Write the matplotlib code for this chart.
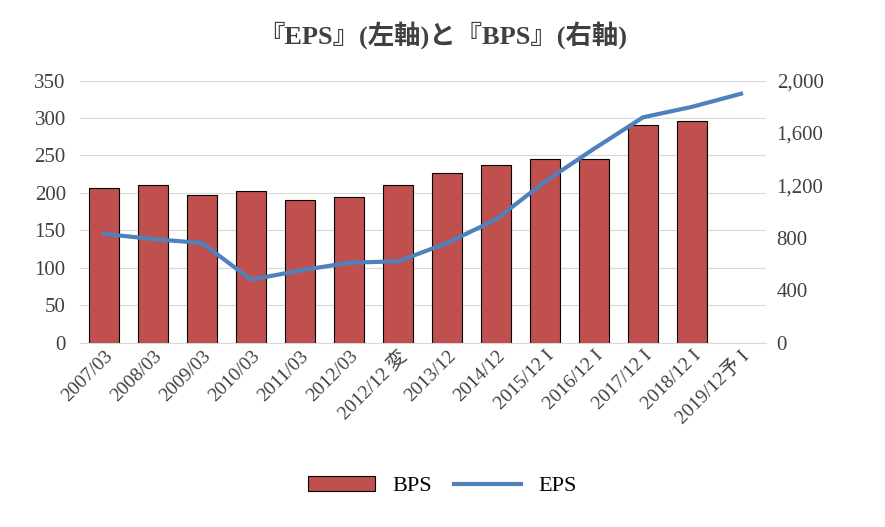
import matplotlib
matplotlib.use("Agg")
import matplotlib.pyplot as plt
import numpy as np

plt.rcParams["font.family"] = ["Liberation Serif", "Noto Sans CJK JP"]

categories = ["2007/03", "2008/03", "2009/03", "2010/03", "2011/03", "2012/03", "2012/12 変",
              "2013/12", "2014/12", "2015/12 I", "2016/12 I", "2017/12 I", "2018/12 I", "2019/12予 I"]
bps = [207, 210, 197, 203, 190, 194, 210, 226, 237, 245, 245, 291, 296, None]
eps = [830, 790, 760, 480, 550, 610, 620, 760, 940, 1230, 1480, 1720, 1800, 1900]

fig = plt.figure(figsize=(8.85, 5.27), dpi=100)
ax = fig.add_axes([0.09, 0.35, 0.775, 0.497])
x = np.arange(len(categories))
bx = [i for i, v in enumerate(bps) if v is not None]
bv = [v for v in bps if v is not None]
ax.bar(bx, bv, width=0.6, color="#C0504D", edgecolor="black", linewidth=0.8, label="BPS", zorder=2)
ax.set_ylim(0, 350)
ax.set_yticks(range(0, 351, 50))
ax.set_xlim(-0.5, len(categories) - 0.5)
ax.grid(axis="y", color="#D9D9D9", linewidth=0.8, zorder=0)
ax.set_xticks(x)
ax.set_xticklabels(categories, rotation=45, ha="right", rotation_mode="anchor", fontsize=14, color="#404040")
ax.tick_params(axis="y", labelsize=15, length=0, labelcolor="#404040", pad=10)
ax.tick_params(axis="x", length=0)
for s in ["top", "right", "left"]:
    ax.spines[s].set_visible(False)
ax.spines["bottom"].set_color("#D9D9D9")

ax2 = ax.twinx()
ax2.plot(x, eps, color="#4F81BD", linewidth=3, label="EPS", zorder=3)
ax2.set_ylim(0, 2000)
ax2.set_yticks(range(0, 2001, 400))
ax2.set_yticklabels([f"{v:,}" for v in range(0, 2001, 400)])
ax2.tick_params(axis="y", labelsize=15, length=0, labelcolor="#404040", pad=8)
for s in ["top", "right", "left", "bottom"]:
    ax2.spines[s].set_visible(False)

fig.suptitle("『EPS』(左軸)と『BPS』(右軸)", y=0.96, fontsize=19, fontweight="bold", color="#404040")
h1, l1 = ax.get_legend_handles_labels()
h2, l2 = ax2.get_legend_handles_labels()
fig.legend(h1 + h2, l1 + l2, loc="lower center", ncol=2, frameon=False, fontsize=16,
           bbox_to_anchor=(0.5, 0.02), handlelength=3, columnspacing=1.0)
fig.savefig("out.png", dpi=100)
